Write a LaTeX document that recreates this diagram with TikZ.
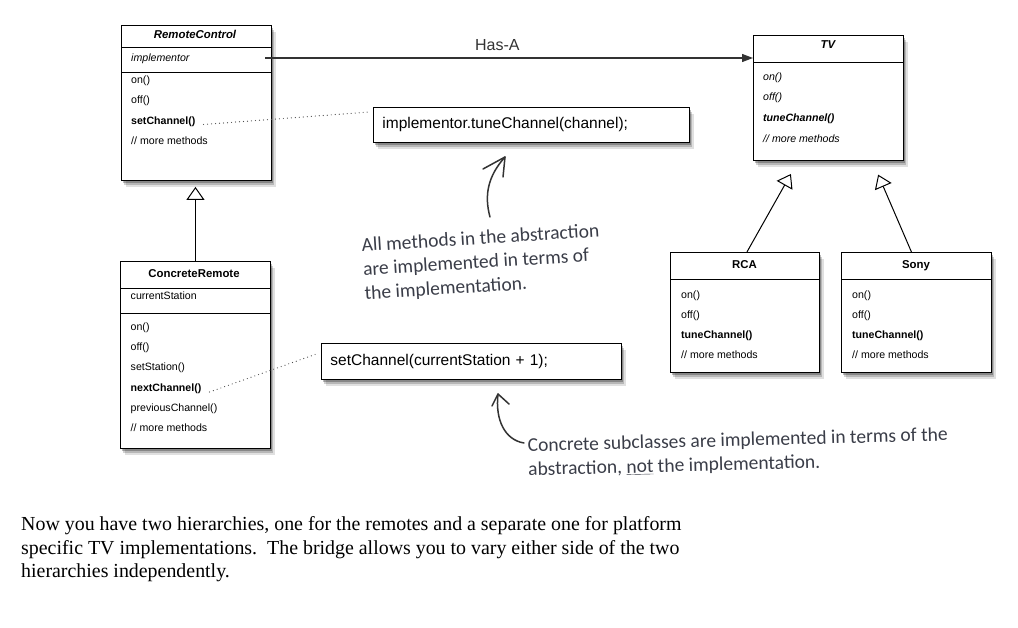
\documentclass[tikz,border=0pt]{standalone}
\usepackage{fontspec}
\setmainfont{Liberation Serif}
\setsansfont{Liberation Sans}
\newfontfamily\handfont{Carlito}
\usetikzlibrary{arrows.meta,shadows,calc}

\definecolor{inkgray}{HTML}{333333}
\definecolor{handink}{HTML}{3A3D48}

\tikzset{
  softshadow/.style={
    drop shadow={shadow xshift=1.5pt,shadow yshift=-2.5pt,opacity=0.26,fill=black},
    drop shadow={shadow xshift=3pt,shadow yshift=-4.5pt,opacity=0.18,fill=black},
    drop shadow={shadow xshift=4.5pt,shadow yshift=-6.5pt,opacity=0.12,fill=black}},
  classbox/.style={draw=black, line width=0.9pt, fill=white, anchor=north west, inner sep=0pt, softshadow},
  classtitle/.style={anchor=center, inner sep=0pt, text height=8.2pt, text depth=2.4pt,
    font=\sffamily\bfseries\fontsize{11.4}{13}\selectfont},
  member/.style={anchor=west, inner sep=0pt, text height=7.8pt, text depth=2.4pt,
    font=\sffamily\fontsize{10.6}{12}\selectfont},
  codebox/.style={draw=black, line width=0.9pt, fill=white, anchor=north west, inner xsep=9pt, inner ysep=0pt,
    align=left, font=\sffamily\fontsize{15.5}{17}\selectfont, softshadow},
  isa/.style={draw=black, line width=1pt, -{Triangle[fill=white, length=13pt, width=18pt]}},
  hasa/.style={draw=inkgray, line width=1.2pt, -{Triangle[length=11pt, width=8pt]}},
  notelink/.style={draw=black!70, line width=1.2pt, line cap=round, dash pattern=on 0pt off 4pt},
  handarrow/.style={draw=inkgray, line width=1.5pt, line cap=round, line join=round},
  handnote/.style={text=handink, font=\handfont\fontsize{19.5}{24}\selectfont, align=left, inner sep=0pt}
}

\begin{document}
\begin{tikzpicture}[x=1pt,y=-1pt]

	\fill[white] (0,0) rectangle (1018,628);
	\useasboundingbox (0,0) rectangle (1018,628);

	% abstraction
	\node[classbox, minimum width=150pt, minimum height=155pt] (rc) at (121,25) {};
	\node[classtitle] (rctitle) at (195,36) {\itshape RemoteControl};
	\draw[line width=0.9pt] ($(rc.north west)+(0,22)$) -- ($(rc.north east)+(0,22)$);
	\node[member] (rcimpl) at (131,59) {\itshape implementor};
	\draw[line width=0.9pt] ($(rc.north west)+(0,47)$) -- ($(rc.north east)+(0,47)$);
	\node[member] (rcon) at (131,81) {on()};
	\node[member] (rcoff) at (131,101) {off()};
	\node[member] (rcset) at (131,121.5) {\bfseries setChannel()};
	\node[member] (rcmore) at (131,141.5) {// more methods};

	\node[classbox, minimum width=150pt, minimum height=187pt] (cr) at (120,261) {};
	\node[classtitle] (crtitle) at (194,275) {ConcreteRemote};
	\draw[line width=0.9pt] ($(cr.north west)+(0,27)$) -- ($(cr.north east)+(0,27)$);
	\node[member] (crstation) at (130.5,297) {currentStation};
	\draw[line width=0.9pt] ($(cr.north west)+(0,52)$) -- ($(cr.north east)+(0,52)$);
	\node[member] (cron) at (130.5,328) {on()};
	\node[member] (croff) at (130.5,348) {off()};
	\node[member] (crsetst) at (130.5,368) {setStation()};
	\node[member] (crnext) at (130.5,389) {\bfseries nextChannel()};
	\node[member] (crprev) at (130.5,409) {previousChannel()};
	\node[member] (crmore) at (130.5,429) {// more methods};

	% implementation
	\node[classbox, minimum width=150pt, minimum height=125pt] (tv) at (753,35) {};
	\node[classtitle] (tvtitle) at (828,46) {\itshape TV};
	\draw[line width=0.9pt] ($(tv.north west)+(0,27)$) -- ($(tv.north east)+(0,27)$);
	\node[member] (tvon) at (763,77.5) {\itshape on()};
	\node[member] (tvoff) at (763,97.5) {\itshape off()};
	\node[member] (tvtune) at (763,118.5) {\bfseries\itshape tuneChannel()};
	\node[member] (tvmore) at (763,139.5) {\itshape // more methods};

	\node[classbox, minimum width=149pt, minimum height=120pt] (rca) at (670,252) {};
	\node[classtitle] (rcatitle) at (744.5,266) {RCA};
	\draw[line width=0.9pt] ($(rca.north west)+(0,27)$) -- ($(rca.north east)+(0,27)$);
	\node[member] (rcaon) at (681,296) {on()};
	\node[member] (rcaoff) at (681,316) {off()};
	\node[member] (rcatune) at (681,336) {\bfseries tuneChannel()};
	\node[member] (rcamore) at (681,356) {// more methods};

	\node[classbox, minimum width=150pt, minimum height=120pt] (sony) at (841,252) {};
	\node[classtitle] (sonytitle) at (916,266) {Sony};
	\draw[line width=0.9pt] ($(sony.north west)+(0,27)$) -- ($(sony.north east)+(0,27)$);
	\node[member] (sonyon) at (852,296) {on()};
	\node[member] (sonyoff) at (852,316) {off()};
	\node[member] (sonytune) at (852,336) {\bfseries tuneChannel()};
	\node[member] (sonymore) at (852,356) {// more methods};

	% code notes
	\node[codebox, text width=298pt, minimum height=35pt] (tunecall) at (373,107) {implementor.tuneChannel(channel);};
	\node[codebox, text width=282pt, minimum height=36pt] (nextcall) at (321,343) {setChannel(currentStation + 1);};

	% connectors
	\coordinate (hasafrom) at (265,58);
	\draw[hasa] (hasafrom) -- (hasafrom -| tv.west)
		node[pos=0.476, anchor=base, yshift=7pt, text=inkgray, font=\sffamily\fontsize{16}{18}\selectfont] {Has-A};
	\draw[isa, shorten >=6pt] (cr.north) -- (cr.north |- rc.south);
	\draw[isa, shorten >=15pt] ($(rca.north)+(2,0)$) -- ($(tv.south west)!0.30!(tv.south east)$);
	\draw[isa, shorten >=15pt] ($(sony.north)+(-5,0)$) -- ($(tv.south west)!0.79!(tv.south east)$);
	\draw[notelink] ($(rcset.east)+(8,3)$) -- ($(tunecall.west)+(-3,-13)$);
	\draw[notelink] ($(crnext.east)+(8,3)$) -- ($(nextcall.west)+(-3,-8)$);

	% hand written remarks
	\coordinate (upnote) at (505,157);
	\draw[handarrow] (490,217) .. controls (484,195) and (488,176) .. (upnote);
	\draw[handarrow] (483,169) -- (upnote) -- (503,177);
	\node[handnote, rotate=3.6] (absnote) at (482,263) {All methods in the abstraction\\are implemented in terms of\\the implementation.};

	\coordinate (backnote) at (498,394);
	\draw[handarrow] (524,443) .. controls (505,440) and (495,420) .. (backnote);
	\draw[handarrow] (492,406) -- (backnote) -- (509,404);
	\node[handnote, rotate=1.5] (concnote) at (738,453) {Concrete subclasses are implemented in terms of the\\abstraction, \underline{not} the implementation.};

	% summary
	\node[anchor=north west, align=left, inner sep=0pt, font=\fontsize{19.9}{23.5}\selectfont] (summary) at (21,516.5)
		{Now you have two hierarchies, one for the remotes and a separate one for platform\\
		 specific TV implementations.\ \ The bridge allows you to vary either side of the two\\
		 hierarchies independently.};

\end{tikzpicture}
\end{document}
